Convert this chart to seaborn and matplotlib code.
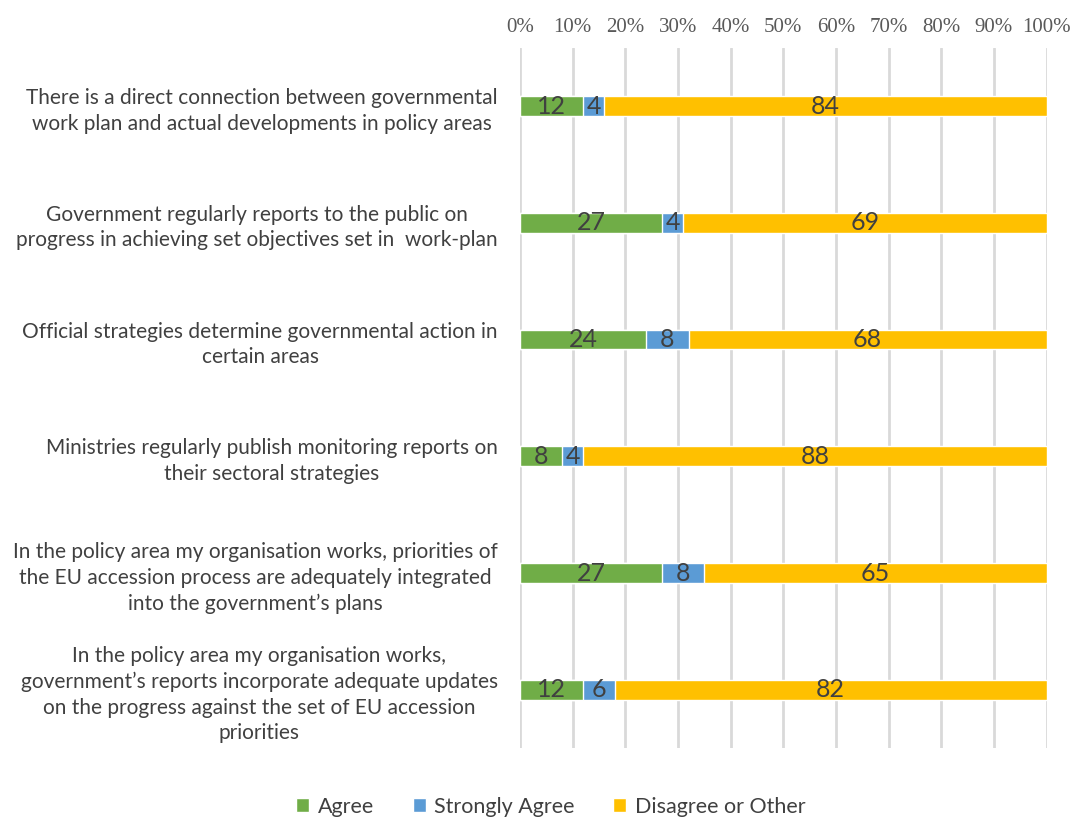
import numpy as np
import pandas as pd
import matplotlib.pyplot as plt
import seaborn as sns
from matplotlib.patches import Patch
from matplotlib.ticker import MultipleLocator, PercentFormatter

# Survey statements (top to bottom)
statements = [
    "There is a direct connection between governmental\nwork plan and actual developments in policy areas",
    "Government regularly reports to the public on\nprogress in achieving set objectives set in  work-plan",
    "Official strategies determine governmental action in\ncertain areas",
    "Ministries regularly publish monitoring reports on\ntheir sectoral strategies",
    "In the policy area my organisation works, priorities of\nthe EU accession process are adequately integrated\ninto the government\u2019s plans",
    "In the policy area my organisation works,\ngovernment\u2019s reports incorporate adequate updates\non the progress against the set of EU accession\npriorities",
]
agree = [12, 27, 24, 8, 27, 12]
strongly_agree = [4, 4, 8, 4, 8, 6]
disagree_other = [84, 69, 68, 88, 65, 82]

series = ["Agree", "Strongly Agree", "Disagree or Other"]
colors = ["#70AD47", "#5B9BD5", "#FFC000"]

df = pd.DataFrame({
    "statement": statements,
    "Agree": agree,
    "Strongly Agree": strongly_agree,
    "Disagree or Other": disagree_other,
})
cum = df[series].cumsum(axis=1)

sns.set_style("white")
plt.rcParams["font.family"] = ["Lato", "DejaVu Sans"]

fig = plt.figure(figsize=(10.8, 8.23), dpi=100)
ax = fig.add_axes([0.4815, 0.091, 0.4875, 0.851])

# draw longest cumulative first so the shorter ones sit on top
for name, col in reversed(list(zip(series, colors))):
    sns.barplot(x=cum[name], y=df["statement"], orient="h", color=col,
                width=0.17, saturation=1, ax=ax, zorder=3)

# segment labels
for i in range(len(df)):
    start = 0
    for name in series:
        v = df.loc[i, name]
        ax.text(start + v / 2, i, str(v), ha="center", va="center",
                fontsize=18, color="#404040", zorder=4)
        start += v

ax.set_xlim(0, 100)
ax.set_ylim(len(df) - 0.5, -0.5)
ax.xaxis.set_major_locator(MultipleLocator(10))
ax.xaxis.set_major_formatter(PercentFormatter(decimals=0))
ax.xaxis.tick_top()
ax.tick_params(axis="x", length=0, pad=8, labelsize=15, labelcolor="#595959")
for lbl in ax.get_xticklabels():
    lbl.set_fontfamily("Liberation Serif")
ax.tick_params(axis="y", length=0, pad=16, labelsize=15, labelcolor="#404040")
for lbl in ax.get_yticklabels():
    lbl.set_multialignment("center")
    lbl.set_linespacing(1.35)
ax.set_xlabel("")
ax.set_ylabel("")
ax.grid(axis="x", color="#D9D9D9", linewidth=2, zorder=0)
ax.set_axisbelow(True)
sns.despine(ax=ax, left=True, bottom=True, top=True, right=True)

handles = [Patch(facecolor=c, label=s) for s, c in zip(series, colors)]
fig.legend(handles=handles, loc="center", bbox_to_anchor=(0.51, 0.02), ncol=3,
           frameon=False, fontsize=15.5, handlelength=0.6, handleheight=0.6,
           handletextpad=0.4, columnspacing=1.8, labelcolor="#404040")

fig.savefig("out.png", dpi=100)
